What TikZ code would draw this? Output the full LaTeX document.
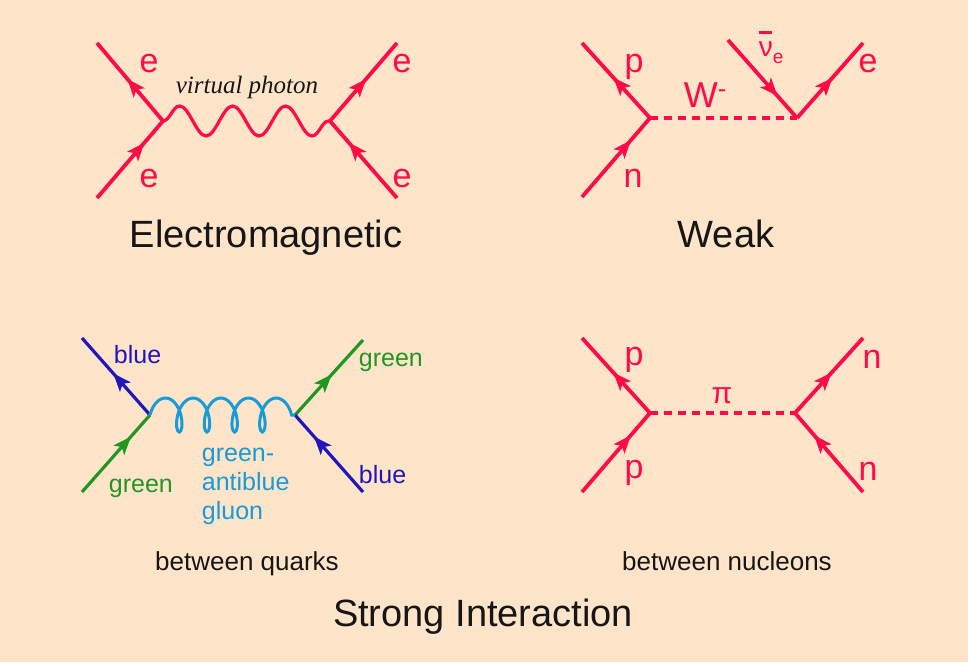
\documentclass[tikz,border=0pt]{standalone}
\usepackage{fontspec}
\setmainfont{Liberation Sans}
\newfontfamily\photonfont{Liberation Serif}
\usetikzlibrary{arrows.meta,decorations.markings,decorations.pathmorphing}
\definecolor{bgpeach}{RGB}{254,228,200}
\definecolor{fred}{RGB}{255,12,72}
\definecolor{qgreen}{RGB}{34,150,34}
\definecolor{qblue}{RGB}{34,22,186}
\definecolor{gluonblue}{RGB}{24,155,215}
\definecolor{ink}{RGB}{22,22,22}
\tikzset{
  fout/.style={postaction={decorate},decoration={markings,mark=at position 0.54 with {\arrow{Stealth[length=18pt,width=14pt,inset=4pt]}}}},
  fin/.style={postaction={decorate},decoration={markings,mark=at position 0.72 with {\arrow{Stealth[length=18pt,width=14pt,inset=4pt]}}}},
  lbl/.style={anchor=base,inner sep=0pt,font=\fontsize{34}{40}\selectfont},
  qlbl/.style={anchor=base west,inner sep=0pt,font=\fontsize{25}{29}\selectfont},
  title/.style={anchor=base,inner sep=0pt,text=ink,font=\fontsize{38}{44}\selectfont},
  subtitle/.style={anchor=base,inner sep=0pt,text=ink,font=\fontsize{26}{30}\selectfont}
}
\begin{document}
\begin{tikzpicture}[x=1pt,y=-1pt,line width=3.8pt]
    \fill[bgpeach] (0,0) rectangle (968,662);
    \useasboundingbox (0,0) rectangle (968,662);
    %electromagnetic
        \coordinate (emL) at (163,121);
        \coordinate (emR) at (330,121);
        \coordinate (emTL) at (97,43);
        \coordinate (emBL) at (97,198);
        \coordinate (emTR) at (397,43);
        \coordinate (emBR) at (397,198);
        \draw[fred,fout] (emL) -- (emTL);
        \draw[fred,fin] (emBL) -- (emL);
        \draw[fred,fout] (emR) -- (emTR);
        \draw[fred,fin] (emBR) -- (emR);
        \draw[fred,line width=3.2pt,decorate,decoration={snake,segment length=53pt,amplitude=15pt}] (emL) -- (emR);
        \node[lbl,fred] (eTL) at (149,72) {e};
        \node[lbl,fred] (eBL) at (149,187) {e};
        \node[lbl,fred] (eTR) at (402,72) {e};
        \node[lbl,fred] (eBR) at (402,187) {e};
        \node[anchor=base,inner sep=0pt,text=ink,font=\photonfont\itshape\fontsize{25}{29}\selectfont] (photon) at (247,93) {virtual photon};
        \node[title] (emT) at (266,247) {Electromagnetic};
    %weak
        \coordinate (wkL) at (650,118);
        \coordinate (wkR) at (797,118);
        \coordinate (wkTL) at (582,43);
        \coordinate (wkBL) at (582,197);
        \coordinate (wkNu) at (728,40);
        \coordinate (wkE) at (863,43);
        \draw[fred,fout] (wkL) -- (wkTL);
        \draw[fred,fin] (wkBL) -- (wkL);
        \draw[fred,fin] (wkNu) -- (wkR);
        \draw[fred,fout] (wkR) -- (wkE);
        \draw[fred,dash pattern=on 8pt off 6pt] (wkL) -- (wkR);
        \node[lbl,fred] (pW) at (634,72) {p};
        \node[lbl,fred] (nW) at (633,187) {n};
        \node[lbl,fred,anchor=base west,font=\fontsize{36}{40}\selectfont] (bosonW) at (682,107) {W\textsuperscript{-}};
        \node[anchor=base west,inner sep=0pt,text=fred,font=\fontsize{28}{32}\selectfont] (nuW) at (757,56) {\rlap{\rule[22pt]{13pt}{3pt}}ν\raisebox{-7pt}{\fontsize{19}{22}\selectfont e}};
        \node[lbl,fred] (eW) at (868,72) {e};
        \node[title] (wkT) at (726,247) {Weak};
    %strong, quarks
        \coordinate (sqL) at (150,415);
        \coordinate (sqR) at (295,415);
        \coordinate (sqTL) at (82,338);
        \coordinate (sqBL) at (82,492);
        \coordinate (sqTR) at (363,340);
        \coordinate (sqBR) at (363,492);
        \draw[qblue,line width=3.2pt,fout] (sqL) -- (sqTL);
        \draw[qgreen,line width=3.2pt,fin] (sqBL) -- (sqL);
        \draw[qgreen,line width=3.2pt,fout] (sqR) -- (sqTR);
        \draw[qblue,line width=3.2pt,fin] (sqBR) -- (sqR);
        \draw[gluonblue,line width=3pt,decorate,decoration={coil,amplitude=17pt,segment length=27.7pt,aspect=0.5}] (sqL) -- (sqR);
        \node[qlbl,text=qblue] (bTL) at (112,363) {blue};
        \node[qlbl,text=qgreen] (gBL) at (107,492) {green};
        \node[qlbl,text=qgreen] (gTR) at (357,366) {green};
        \node[qlbl,text=qblue] (bBR) at (357,483) {blue};
        \node[qlbl,text=gluonblue,align=left] (gluon) at (200,519) {green-\\antiblue\\gluon};
        \node[subtitle] (sqT) at (247,570) {between quarks};
    %strong, nucleons
        \coordinate (snL) at (650,413);
        \coordinate (snR) at (795,413);
        \coordinate (snTL) at (582,338);
        \coordinate (snBL) at (582,492);
        \coordinate (snTR) at (863,338);
        \coordinate (snBR) at (863,492);
        \draw[fred,fout] (snL) -- (snTL);
        \draw[fred,fin] (snBL) -- (snL);
        \draw[fred,fout] (snR) -- (snTR);
        \draw[fred,fin] (snBR) -- (snR);
        \draw[fred,dash pattern=on 8pt off 6pt] (snL) -- (snR);
        \node[lbl,fred] (pTL) at (634,365) {p};
        \node[lbl,fred] (pBL) at (634,478) {p};
        \node[lbl,fred] (nTR) at (872,368) {n};
        \node[lbl,fred] (nBR) at (868,480) {n};
        \node[lbl,fred,font=\fontsize{30}{34}\selectfont] (pion) at (722,403) {π};
        \node[subtitle] (snT) at (727,570) {between nucleons};
    %result
        \node[title] (strongT) at (483,626) {Strong Interaction};
\end{tikzpicture}
\end{document}
